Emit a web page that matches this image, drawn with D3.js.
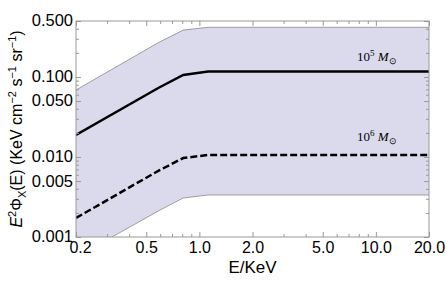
<!DOCTYPE html>
<html><head><meta charset="utf-8">
<script src="https://cdn.jsdelivr.net/npm/d3@7"></script>
<style>body{margin:0;background:#fff}svg{display:block}</style>
</head><body>
<svg id="c" width="446" height="284"></svg>
<script>
const energy   = [0.2, 0.585, 0.81, 1.12, 20];
const mass1e5  = [0.0188, 0.0728, 0.106, 0.117, 0.117];
const mass1e6  = [0.00173, 0.0067, 0.0097, 0.0106, 0.0106];
const bandHigh = [0.0687, 0.268, 0.385, 0.417, 0.417];
const bandLow  = [0.00056, 0.00211, 0.00307, 0.00335, 0.00335];
const xMajor = [0.2, 0.5, 1, 2, 5, 10, 20];
const xMajorLabels = ["0.2","0.5","1.0","2.0","5.0","10.0","20.0"];
const xMinor = [0.3,0.4,0.6,0.7,0.8,0.9,3,4,6,7,8,9];
const yMajor = [0.001, 0.005, 0.01, 0.05, 0.1, 0.5];
const yMajorLabels = ["0.001","0.005","0.010","0.050","0.100","0.500"];
const yMinor = [0.002,0.003,0.004,0.006,0.007,0.008,0.009,0.02,0.03,0.04,0.06,0.07,0.08,0.09,0.2,0.3,0.4];

const L=76, R=429, T=21, B=237;
const svg = d3.select("#c");
const x = d3.scaleLog().domain([0.2,20]).range([L,R]);
const y = d3.scaleLog().domain([0.001,0.5]).range([B,T]);

const defs = svg.append("defs");
defs.append("clipPath").attr("id","clip").append("rect").attr("x",L).attr("y",T).attr("width",R-L).attr("height",B-T);
const g = svg.append("g").attr("clip-path","url(#clip)");

const pts = energy.map((e,i)=>({e, lo:bandLow[i], hi:bandHigh[i], a:mass1e5[i], b:mass1e6[i]}));
g.append("path").datum(pts)
  .attr("d", d3.area().x(d=>x(d.e)).y0(d=>y(d.lo)).y1(d=>y(d.hi)))
  .attr("fill","#dadaec").attr("stroke","none");
g.append("path").datum(pts).attr("d", d3.line().x(d=>x(d.e)).y(d=>y(d.hi)))
  .attr("fill","none").attr("stroke","#8a8a8a").attr("stroke-width",0.8);
g.append("path").datum(pts).attr("d", d3.line().x(d=>x(d.e)).y(d=>y(d.lo)))
  .attr("fill","none").attr("stroke","#8a8a8a").attr("stroke-width",0.8);
g.append("path").datum(pts).attr("d", d3.line().x(d=>x(d.e)).y(d=>y(d.a)))
  .attr("fill","none").attr("stroke","#000").attr("stroke-width",2.5);
g.append("path").datum(pts).attr("d", d3.line().x(d=>x(d.e)).y(d=>y(d.b)))
  .attr("fill","none").attr("stroke","#000").attr("stroke-width",2.5).attr("stroke-dasharray","7,3");

const tickCol = "#999";
const font = "'Liberation Sans', Arial, sans-serif";
svg.append("rect").attr("x",L).attr("y",T).attr("width",R-L).attr("height",B-T)
  .attr("fill","none").attr("stroke",tickCol).attr("stroke-width",1);

function axisX(gen, ty, vals, len, labels){
  const a = svg.append("g").attr("transform",`translate(0,${ty})`)
    .call(gen(x).tickValues(vals).tickSizeInner(len).tickSizeOuter(0).tickFormat(labels?((d,i)=>labels[i]):""));
  a.select(".domain").remove();
  a.selectAll("line").attr("stroke",tickCol);
  return a;
}
function axisY(gen, tx, vals, len, labels){
  const a = svg.append("g").attr("transform",`translate(${tx},0)`)
    .call(gen(y).tickValues(vals).tickSizeInner(len).tickSizeOuter(0).tickFormat(labels?((d,i)=>labels[i]):""));
  a.select(".domain").remove();
  a.selectAll("line").attr("stroke",tickCol);
  return a;
}
const bx = axisX(d3.axisBottom, B, xMajor, -5, xMajorLabels);
bx.selectAll("text").attr("y",5).attr("dy","0.71em").attr("font-family",font).attr("font-size",16).attr("fill","#000")
  .attr("dx",(d,i)=> i===0 ? 4 : 0);
axisX(d3.axisBottom, B, xMinor, -3, null);
axisX(d3.axisTop, T, xMajor, -5, null);
axisX(d3.axisTop, T, xMinor, -3, null);
const ly = axisY(d3.axisLeft, L, yMajor, -5, yMajorLabels);
ly.selectAll("text").attr("x",-3).attr("dy","0.3em").attr("font-family",font).attr("font-size",16.5).attr("fill","#000");
axisY(d3.axisLeft, L, yMinor, -3, null);
axisY(d3.axisRight, R, yMajor, -5, null);
axisY(d3.axisRight, R, yMinor, -3, null);

svg.append("text").attr("x",(L+R)/2).attr("y",273).attr("text-anchor","middle")
  .attr("font-family",font).attr("font-size",17).text("E/KeV");

const yl = svg.append("text").attr("transform","translate(22,129) rotate(-90)")
  .attr("text-anchor","middle").attr("font-family",font).attr("font-size",16);
yl.append("tspan").attr("font-style","italic").text("E");
yl.append("tspan").attr("font-size",11).attr("dy",-6).text("2");
yl.append("tspan").attr("dy",6).text("Φ");
yl.append("tspan").attr("font-size",11).attr("dy",4).text("X");
yl.append("tspan").attr("dy",-4).text("(E) (KeV cm");
yl.append("tspan").attr("font-size",11).attr("dy",-6).text("−2");
yl.append("tspan").attr("dy",6).text(" s");
yl.append("tspan").attr("font-size",11).attr("dy",-6).text("−1");
yl.append("tspan").attr("dy",6).text(" sr");
yl.append("tspan").attr("font-size",11).attr("dy",-6).text("−1");
yl.append("tspan").attr("dy",6).text(")");

function massLabel(xp, yp, exp){
  const t = svg.append("text").attr("x",xp).attr("y",yp)
    .attr("font-family","'Liberation Serif','Times New Roman',serif").attr("font-size",13).attr("fill","#000");
  t.append("tspan").text("10");
  t.append("tspan").attr("font-size",9).attr("dy",-5).text(exp);
  t.append("tspan").attr("dy",5).attr("font-style","italic").text(" M");
  t.append("tspan").attr("font-size",9).attr("dy",3).text("⊙");
}
massLabel(357, 61, "5");
massLabel(357, 141, "6");
</script>
</body></html>
